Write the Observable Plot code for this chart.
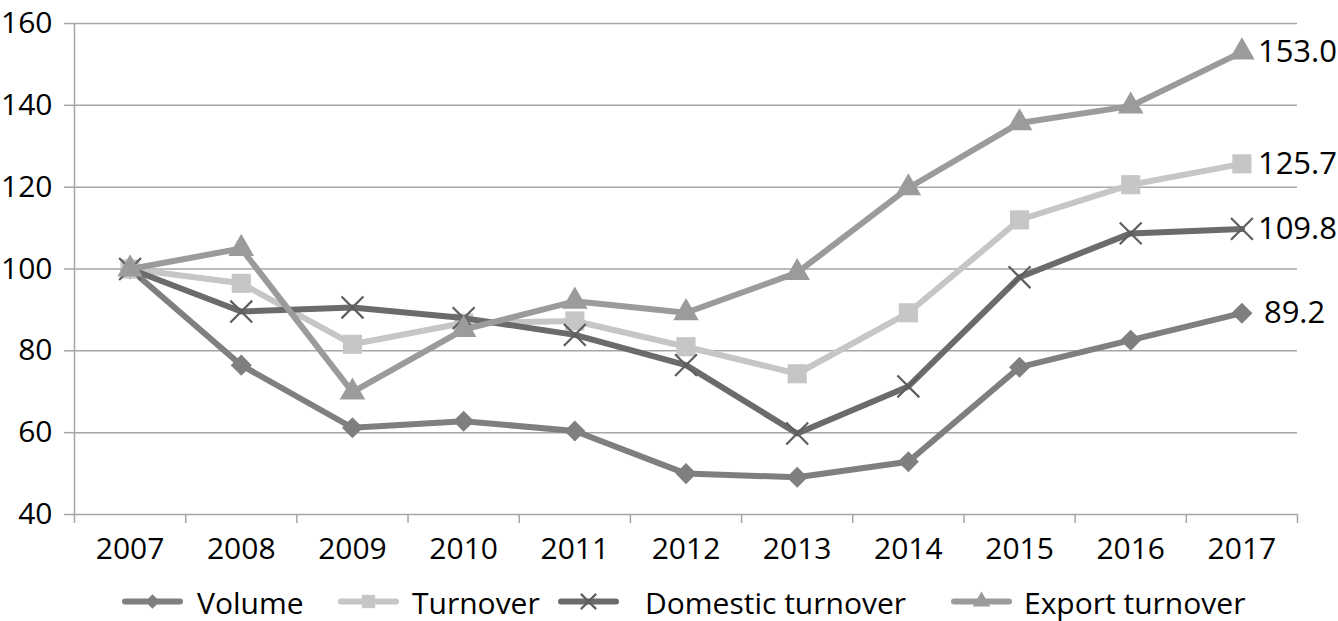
<!DOCTYPE html>
<html>
<head>
<meta charset="utf-8">
<script src="https://cdn.jsdelivr.net/npm/d3@7"></script>
<script src="https://cdn.jsdelivr.net/npm/@observablehq/plot@0.6"></script>
<style>
  html, body { margin: 0; padding: 0; background: #fff; }
  #wrap { position: relative; width: 1338px; height: 621px; font-family: "Open Sans", sans-serif; }
  #legend { position: absolute; left: 0; top: 575px; width: 1338px; height: 46px; }
  .item { position: absolute; top: 0; height: 46px; display: flex; align-items: center; font-size: 30px; color: #000; }
  .sw { position: absolute; top: 0; }
</style>
</head>
<body>
<div id="wrap">
  <div id="chart"></div>
  <div id="legend"></div>
</div>
<script>
const years = [2007, 2008, 2009, 2010, 2011, 2012, 2013, 2014, 2015, 2016, 2017];
const volume = [100, 76.5, 61.2, 62.8, 60.4, 50.0, 49.1, 52.9, 76.0, 82.6, 89.2];
const turnover = [100, 96.5, 81.6, 86.8, 87.3, 81.0, 74.4, 89.3, 112.0, 120.6, 125.7];
const domestic = [100, 89.6, 90.6, 88.0, 83.9, 76.5, 59.8, 71.3, 98.0, 108.7, 109.8];
const exportTurnover = [100, 105.0, 69.9, 85.2, 92.1, 89.3, 99.1, 119.8, 135.7, 139.8, 153.0];
const seriesNames = ["Volume", "Turnover", "Domestic turnover", "Export turnover"];
const endLabels = ["89.2", "125.7", "109.8", "153.0"];
const yTicks = [40, 60, 80, 100, 120, 140, 160];

const seriesValues = [volume, turnover, domestic, exportTurnover];
const styles = [
  {color: "#7f7f7f", symbol: "diamond2", r: 9.5, fill: "#7f7f7f", stroke: "none", sw: 0, dx: 22},
  {color: "#c6c6c6", symbol: "square", r: 10.8, fill: "#c6c6c6", stroke: "none", sw: 0, dx: 16},
  {color: "#6b6b6b", symbol: "times", r: 10, fill: "none", stroke: "#5e5e5e", sw: 2.2, dx: 16},
  {color: "#9b9b9b", symbol: "triangle", r: 9.5, fill: "#9b9b9b", stroke: "none", sw: 0, dx: 16}
];

const boundaries = d3.range(years.length + 1).map(i => years[0] - 0.5 + i);
const font = "Open Sans, sans-serif";
const grid = "#a6a6a6";

const marks = [
  Plot.ruleY(yTicks, {stroke: grid, strokeWidth: 1.5}),
  Plot.ruleX([boundaries[0]], {stroke: grid, strokeWidth: 1.5}),
  Plot.axisY({ticks: yTicks, tickSize: 10, tickPadding: 12, stroke: grid, strokeWidth: 1.5, strokeOpacity: 1, fontSize: 30, fill: "#000", label: null, tickFormat: d => String(d)}),
  Plot.axisX({ticks: boundaries, tickSize: 9, stroke: grid, strokeWidth: 1.5, strokeOpacity: 1, tickFormat: () => "", label: null}),
  Plot.axisX({ticks: years, tickSize: 0, tickPadding: 23, fontSize: 30, fill: "#000", tickFormat: d => String(d), label: null})
];

seriesValues.forEach((vals, si) => {
  const st = styles[si];
  const rows = years.map((yr, i) => ({year: yr, value: vals[i]}));
  marks.push(Plot.line(rows, {x: "year", y: "value", stroke: st.color, strokeWidth: 6, strokeLinejoin: "round", strokeLinecap: "round"}));
  marks.push(Plot.dot(rows, {x: "year", y: "value", symbol: () => st.symbol, r: st.r, fill: st.fill, stroke: st.stroke, strokeWidth: st.sw}));
  const last = rows[rows.length - 1];
  marks.push(Plot.text([last], {x: "year", y: "value", text: () => endLabels[si], dx: st.dx, textAnchor: "start", fontSize: 31, fill: "#000"}));
});

const chart = Plot.plot({
  width: 1338,
  height: 575,
  marginLeft: 74,
  marginRight: 41,
  marginTop: 23,
  marginBottom: 61,
  style: {fontFamily: font, background: "#fff", overflow: "visible"},
  x: {type: "linear", domain: [boundaries[0], boundaries[boundaries.length - 1]]},
  y: {domain: [40, 160]},
  symbol: {type: "identity"},
  marks
});
document.getElementById("chart").appendChild(chart);

// Legend
const legendPos = [
  {sw: 122, tx: 197},
  {sw: 338, tx: 412},
  {sw: 558, tx: 645},
  {sw: 951, tx: 1024}
];
const legend = document.getElementById("legend");
const symMap = {diamond2: d3.symbolDiamond2, square: d3.symbolSquare, times: d3.symbolTimes, triangle: d3.symbolTriangle};
const legendR = [6.5, 7.5, 7, 6.5];
seriesNames.forEach((name, si) => {
  const st = styles[si];
  const p = legendPos[si];
  const svgNS = "http://www.w3.org/2000/svg";
  const svg = document.createElementNS(svgNS, "svg");
  svg.setAttribute("width", 64);
  svg.setAttribute("height", 46);
  svg.setAttribute("class", "sw");
  svg.style.left = p.sw + "px";
  const line = document.createElementNS(svgNS, "line");
  line.setAttribute("x1", 3); line.setAttribute("x2", 58);
  line.setAttribute("y1", 26.5); line.setAttribute("y2", 26.5);
  line.setAttribute("stroke", st.color); line.setAttribute("stroke-width", 6);
  line.setAttribute("stroke-linecap", "round");
  svg.appendChild(line);
  const path = document.createElementNS(svgNS, "path");
  const size = Math.PI * legendR[si] * legendR[si];
  path.setAttribute("d", d3.symbol(symMap[st.symbol], size)());
  path.setAttribute("transform", "translate(30.5,26.5)");
  path.setAttribute("fill", st.fill);
  path.setAttribute("stroke", st.stroke);
  path.setAttribute("stroke-width", st.sw);
  svg.appendChild(path);
  legend.appendChild(svg);
  const t = document.createElement("div");
  t.className = "item";
  t.style.left = p.tx + "px";
  t.style.top = "4px";
  t.textContent = name;
  legend.appendChild(t);
});
</script>
</body>
</html>
